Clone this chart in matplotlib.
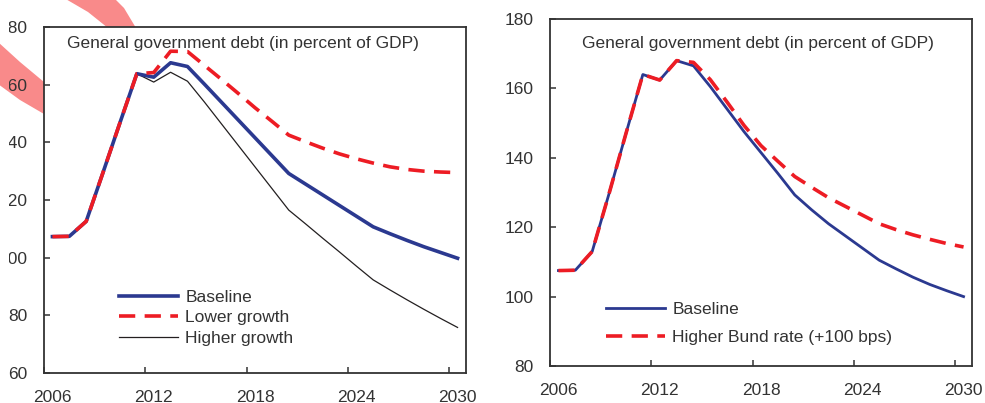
import numpy as np
import matplotlib
matplotlib.use("Agg")
import matplotlib.pyplot as plt
from matplotlib.patches import Polygon
from matplotlib.transforms import Bbox, TransformedBbox

plt.rcParams['font.family'] = ['Liberation Sans', 'DejaVu Sans']

years = list(range(2006, 2031))

# Left panel: growth scenarios
left_baseline = [107.3, 107.4, 112.6, 129.6, 146.8, 163.8, 162.6, 167.6, 166.3,
                 160.2, 154.0, 147.8, 141.6, 135.4, 129.2,
                 125.5, 121.8, 118.1, 114.4, 110.7,
                 108.3, 106.0, 103.8, 101.8, 99.8]
left_lower = [107.3, 107.4, 112.6, 129.6, 146.8, 163.8, 164.2, 171.6, 171.5,
              166.7, 161.9, 157.0, 152.0, 147.3, 142.5,
              140.2, 138.0, 136.0, 134.3, 132.8,
              131.5, 130.6, 130.0, 129.7, 129.5]
left_higher = [107.3, 107.4, 112.6, 129.6, 146.8, 163.8, 160.9, 164.3, 161.2,
               154.0, 146.5, 139.0, 131.5, 124.0, 116.5,
               111.7, 106.8, 102.0, 97.1, 92.3,
               88.8, 85.4, 82.1, 78.9, 75.8]

# Right panel: interest-rate scenario
right_baseline = [107.5, 107.6, 113.0, 129.7, 147.0, 164.0, 162.4, 168.0, 166.5,
                  160.5, 154.0, 147.5, 141.5, 135.5, 129.3,
                  125.0, 121.0, 117.5, 114.0, 110.5,
                  108.0, 105.6, 103.5, 101.7, 100.0]
right_bund = [107.5, 107.6, 113.0, 129.7, 147.0, 164.0, 162.4, 168.0, 167.5,
              162.5, 156.0, 149.3, 143.5, 139.0, 134.6,
              131.5, 128.5, 126.0, 123.5, 121.0,
              119.3, 117.8, 116.5, 115.3, 114.3]

xtick_years = [2006, 2012, 2018, 2024, 2030]
title_text = "General government debt (in percent of GDP)"

W, H = 985, 403
fig = plt.figure(figsize=(W / 100, H / 100), dpi=100)

# decorative pink swoosh (figure pixel coordinates), behind everything
def px(pts):
    return [(x / W, 1 - y / H) for x, y in pts]

pink = '#F98A8A'
top_band = px([(64, -2), (114, -2), (124, 8), (136, 28), (108, 28), (88, 12)])
left_band = px([(-2, 42), (-2, 84), (20, 100), (44, 114), (44, 82), (20, 62)])
for poly in (top_band, left_band):
    fig.patches.append(Polygon(poly, closed=True, transform=fig.transFigure,
                               facecolor=pink, edgecolor='none', zorder=-5))

def make_axes(l, r, t, b):
    return fig.add_axes([l / W, 1 - b / H, (r - l) / W, (b - t) / H])

axL = make_axes(44, 466, 27, 373)
axR = make_axes(550, 972, 19, 366)

# annual values plotted at the centre of each year slot (category axis)
x = np.array(years) + 0.5

navy = '#2B3990'
red = '#ED1C24'
dark = '#231F20'
txt = '#333333'

axL.plot(x, left_baseline, color=navy, lw=2.6, label='Baseline', zorder=3)
axL.plot(x, left_lower, color=red, lw=2.6, dashes=(4.5, 2.6), label='Lower growth', zorder=4)
axL.plot(x, left_higher, color=dark, lw=0.9, label='Higher growth', zorder=2)

axR.plot(x, right_baseline, color=navy, lw=2.0, label='Baseline', zorder=3)
axR.plot(x, right_bund, color=red, lw=2.6, dashes=(4.5, 2.6),
         label='Higher Bund rate (+100 bps)', zorder=4)

for ax, ylim, yt in ((axL, (60, 180), range(60, 181, 20)),
                     (axR, (80, 180), range(80, 181, 20))):
    ax.set_xlim(2006, 2031)
    ax.set_ylim(*ylim)
    # tick marks at year boundaries, labels centred on the year slot
    ax.set_xticks(xtick_years)
    ax.set_xticklabels([])
    ax.set_xticks([y + 0.5 for y in xtick_years], minor=True)
    ax.set_xticklabels([str(y) for y in xtick_years], minor=True)
    ax.set_yticks(list(yt))
    ax.set_facecolor('white')
    for s in ax.spines.values():
        s.set_color(txt)
        s.set_linewidth(1.3)
    ax.tick_params(axis='y', direction='in', length=4.5, width=1.1, color=txt,
                   labelsize=12.5, labelcolor=txt, pad=12)
    ax.tick_params(axis='x', which='major', direction='in', length=4, width=1.1,
                   color=txt)
    ax.tick_params(axis='x', which='minor', length=0, labelsize=12.5,
                   labelcolor=txt, pad=12)

axL.text(0.0545, 0.952, title_text, transform=axL.transAxes, fontsize=12.5,
         color=txt, ha='left', va='center')
axR.text(0.076, 0.929, title_text, transform=axR.transAxes, fontsize=12.5,
         color=txt, ha='left', va='center')

axL.legend(loc='upper left', bbox_to_anchor=(0.178, 0.24), frameon=False,
           fontsize=12.5, handlelength=3.4, handletextpad=0.42, labelspacing=0.3,
           borderpad=0, borderaxespad=0, labelcolor=txt)
axR.legend(loc='upper left', bbox_to_anchor=(0.133, 0.186), frameon=False,
           fontsize=12.5, handlelength=3.4, handletextpad=0.42, labelspacing=0.78,
           borderpad=0, borderaxespad=0, labelcolor=txt)

# the reference image is cropped at the left edge: hide what falls off it
fig.canvas.draw()
clip = TransformedBbox(Bbox([[9 / W, 0], [1, 1]]), fig.transFigure)
for lab in axL.get_yticklabels():
    lab.set_clip_box(clip)
    lab.set_clip_on(True)

fig.savefig('out.png', dpi=100)
